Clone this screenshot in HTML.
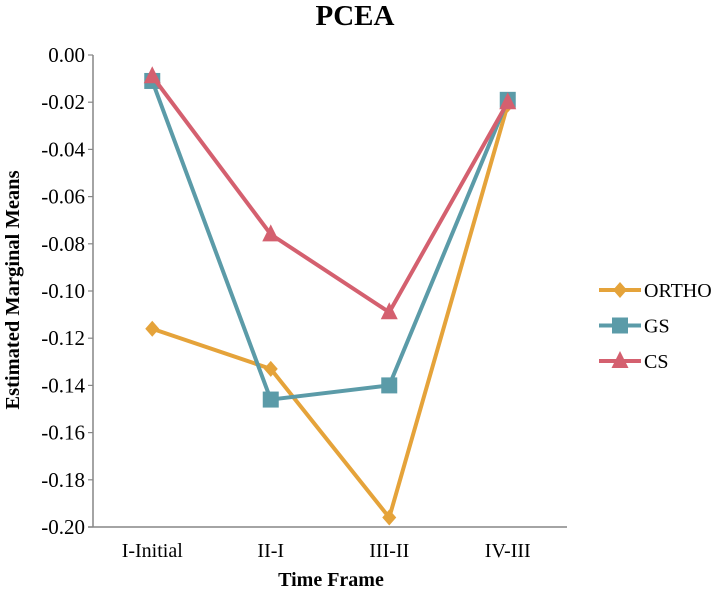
<!DOCTYPE html>
<html><head><meta charset="utf-8"><style>
body{margin:0;background:#fff;}
svg{display:block;font-family:"Liberation Serif",serif;}
</style></head><body>
<svg id="chart" width="717" height="590" viewBox="0 0 717 590">
<text x="355" y="25" font-size="29" font-weight="bold" text-anchor="middle">PCEA</text>
<text transform="translate(19,290) rotate(-90)" font-size="20.5" font-weight="bold" text-anchor="middle">Estimated Marginal Means</text>
<text x="331" y="586" font-size="20" font-weight="bold" text-anchor="middle">Time Frame</text>
<g id="axes"></g>
<g id="series"></g>
<g id="legend"></g>
</svg>
<script>
const categories=["I-Initial","II-I","III-II","IV-III"];
const yTicks=[0,-0.02,-0.04,-0.06,-0.08,-0.10,-0.12,-0.14,-0.16,-0.18,-0.20];
const seriesNames=["ORTHO","GS","CS"];
const orthoValues=[-0.116,-0.133,-0.196,-0.021];
const gsValues=[-0.011,-0.146,-0.140,-0.019];
const csValues=[-0.009,-0.076,-0.109,-0.020];
const NS="http://www.w3.org/2000/svg";
const L=93,R=567,T=55,B=527;
const colors=["#E5A33A","#5B9BA8","#D4606F"];
function y(v){return T+(0-v)/0.2*(B-T);}
function x(i){const w=(R-L)/categories.length;return L+w*(i+0.5);}
function mk(tag,attrs,parent){const e=document.createElementNS(NS,tag);for(const k in attrs)e.setAttribute(k,attrs[k]);parent.appendChild(e);return e;}
const axes=document.getElementById('axes');
let a=mk('line',{x1:L,y1:T,x2:L,y2:B,stroke:'#868686','stroke-width':1.5},axes);


a=mk('line',{x1:L-5,y1:B,x2:R,y2:B,stroke:'#868686','stroke-width':1.5},axes);


yTicks.forEach(v=>{
 const t=mk('line',{x1:L-5,y1:y(v),x2:L,y2:y(v),stroke:'#868686','stroke-width':1.2},axes);
 
 
 const tx=mk('text',{x:L-8,y:y(v)+7,'font-size':21,'text-anchor':'end'},axes);
 tx.textContent=v.toFixed(2);
 
 
});
categories.forEach((c,i)=>{
 const tx=mk('text',{x:x(i),y:557,'font-size':20,'text-anchor':'middle'},axes);
 tx.textContent=c;
 
 
});
function marker(k,cx,cy,col,parent){
 let m;
 if(k===0)m=mk('polygon',{points:`${cx},${cy-8} ${cx+7},${cy} ${cx},${cy+8} ${cx-7},${cy}`,fill:col},parent);
 else if(k===1)m=mk('rect',{x:cx-8,y:cy-8,width:16,height:16,fill:col},parent);
 else m=mk('polygon',{points:`${cx},${cy-10} ${cx+8.5},${cy+7} ${cx-8.5},${cy+7}`,fill:col},parent);
 return m;
}
const sg=document.getElementById('series');
[orthoValues,gsValues,csValues].forEach((vals,k)=>{
 const pts=vals.map((v,i)=>x(i)+','+y(v)).join(' ');
 const pl=mk('polyline',{points:pts,fill:'none',stroke:colors[k],'stroke-width':4,'stroke-linejoin':'round'},sg);
 
 
 vals.forEach((v,i)=>{
  const m=marker(k,x(i),y(v),colors[k],sg);
  
  
 });
});
const lg=document.getElementById('legend');
seriesNames.forEach((n,k)=>{
 const ly=290+k*35.5;
 const g=mk('g',{},lg);
 
 
 mk('line',{x1:599,y1:ly,x2:641,y2:ly,stroke:colors[k],'stroke-width':4},g);
 marker(k,620,ly,colors[k],g);
 const t=mk('text',{x:644,y:ly+7,'font-size':20},g);
 t.textContent=n;
});
</script>
</body></html>
